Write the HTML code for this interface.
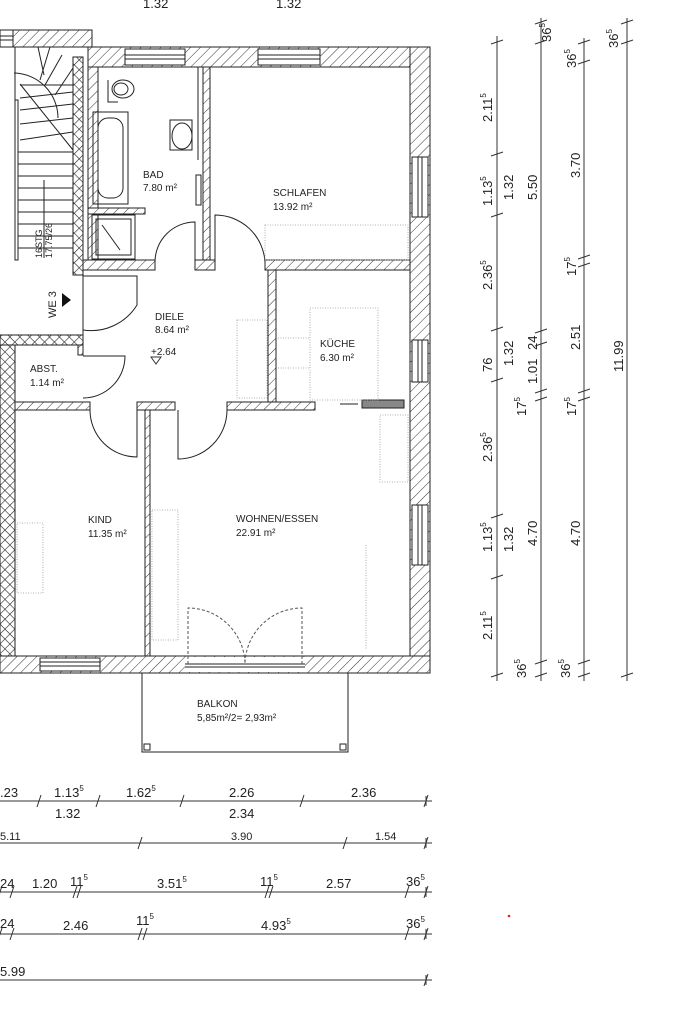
<!DOCTYPE html>
<html><head><meta charset="utf-8"><style>
html,body{margin:0;padding:0;background:#fff;}
svg{display:block;}
text{font-family:"Liberation Sans",sans-serif;fill:#222;}
</style></head><body>
<svg width="678" height="1013" viewBox="0 0 678 1013" xmlns="http://www.w3.org/2000/svg">
<defs>
<pattern id="h" width="7" height="7" patternUnits="userSpaceOnUse" patternTransform="rotate(45)">
<rect width="7" height="7" fill="#fff"/><line x1="0" y1="0" x2="0" y2="7" stroke="#333" stroke-width="1"/>
</pattern>
<pattern id="x" width="7" height="7" patternUnits="userSpaceOnUse" patternTransform="rotate(45)">
<rect width="7" height="7" fill="#fff"/><line x1="0" y1="0" x2="0" y2="7" stroke="#222" stroke-width="1.2"/><line x1="0" y1="0" x2="7" y2="0" stroke="#222" stroke-width="1.2"/>
</pattern>
</defs>
<g stroke="#222" stroke-width="1">
<!-- top walls -->
<rect x="13" y="30" width="79" height="17" fill="url(#h)"/>
<rect x="88" y="47" width="342" height="20" fill="url(#h)"/>
<rect x="125" y="49" width="60" height="16" fill="#fff"/>
<rect x="258" y="49" width="62" height="16" fill="#fff"/>
<line x1="125" y1="55" x2="185" y2="55"/><line x1="125" y1="59" x2="185" y2="59"/>
<line x1="258" y1="55" x2="320" y2="55"/><line x1="258" y1="59" x2="320" y2="59"/>
<rect x="0" y="30" width="13" height="17" fill="#fff"/>
<line x1="0" y1="36" x2="13" y2="36"/><line x1="0" y1="40" x2="13" y2="40"/>
<!-- right wall -->
<rect x="410" y="47" width="20" height="626" fill="url(#h)"/>
<rect x="412" y="157" width="16" height="60" fill="#fff"/>
<line x1="418" y1="157" x2="418" y2="217"/><line x1="422" y1="157" x2="422" y2="217"/>
<rect x="412" y="340" width="16" height="42" fill="#fff"/>
<line x1="418" y1="340" x2="418" y2="382"/><line x1="422" y1="340" x2="422" y2="382"/>
<rect x="412" y="505" width="16" height="60" fill="#fff"/>
<line x1="418" y1="505" x2="418" y2="565"/><line x1="422" y1="505" x2="422" y2="565"/>
<!-- bottom wall -->
<rect x="0" y="656" width="430" height="17" fill="url(#h)"/>
<rect x="40" y="658" width="60" height="13" fill="#fff"/>
<line x1="40" y1="662" x2="100" y2="662"/><line x1="40" y1="666" x2="100" y2="666"/>
<rect x="185" y="657" width="120" height="15" fill="#fff" stroke="none"/>
<line x1="185" y1="664" x2="305" y2="664"/><line x1="185" y1="667" x2="305" y2="667"/>
<!-- masonry -->
<rect x="73" y="57" width="10" height="218" fill="url(#x)"/>
<rect x="0" y="335" width="83" height="10" fill="url(#x)"/>
<rect x="0" y="345" width="15" height="311" fill="url(#x)"/>
<!-- internal walls -->
<rect x="83" y="260" width="72" height="10" fill="url(#h)"/>
<rect x="195" y="260" width="20" height="10" fill="url(#h)"/>
<rect x="265" y="260" width="145" height="10" fill="url(#h)"/>
<rect x="203" y="67" width="7" height="193" fill="url(#h)"/>
<line x1="198" y1="67" x2="198" y2="160"/>
<rect x="268" y="270" width="8" height="132" fill="url(#h)"/>
<rect x="15" y="402" width="75" height="8" fill="url(#h)"/>
<rect x="137" y="402" width="38" height="8" fill="url(#h)"/>
<rect x="227" y="402" width="88" height="8" fill="url(#h)"/>
<rect x="145" y="410" width="5" height="246" fill="url(#h)"/>
<rect x="362" y="400" width="42" height="8" fill="#888"/>
<line x1="340" y1="404" x2="358" y2="404"/>
<rect x="78" y="345" width="5" height="10" fill="url(#h)"/>
<line x1="83" y1="270" x2="83" y2="335" stroke-width="1"/>
</g>
<!-- doors -->
<g stroke="#222" stroke-width="1" fill="none">
<path d="M195,262 L195,222 A40,40 0 0 0 155,262"/>
<path d="M215,262 L215,215 A50,50 0 0 1 265,262"/>
<path d="M83,276 L137,276 L137,305 A54,54 0 0 1 83,330"/>
<path d="M83,356 L125,356 A42,42 0 0 1 83,398"/>
<path d="M137,410 L137,457 A47,47 0 0 1 90,410"/>
<path d="M178,410 L178,459 A49,49 0 0 0 227,410"/>
<g stroke-dasharray="3,2" stroke="#555">
<path d="M188,664 L188,608 A57,57 0 0 1 245,664"/>
<path d="M302,664 L302,608 A57,57 0 0 0 245,664"/>
</g>
<!-- balcony -->
<path d="M142,673 L142,752 L348,752 L348,673"/>
<rect x="144" y="744" width="6" height="6"/><rect x="340" y="744" width="6" height="6"/>
<!-- stairs -->
<line x1="15" y1="47" x2="15" y2="260"/>
<rect x="15" y="100" width="3" height="160"/>
<path d="M14,73 A45,45 0 0 1 58,118"/>
<line x1="38" y1="47" x2="44" y2="75"/><line x1="50" y1="47" x2="40" y2="80"/>
<line x1="62" y1="55" x2="45" y2="85"/><line x1="73" y1="68" x2="55" y2="95"/>
<line x1="20" y1="85" x2="73" y2="85"/><line x1="20" y1="98" x2="73" y2="92"/>
<line x1="20" y1="110" x2="73" y2="104"/><line x1="20" y1="124" x2="73" y2="118"/>
<line x1="20" y1="140" x2="73" y2="132"/><line x1="20" y1="84" x2="73" y2="150"/>
<line x1="18" y1="152" x2="73" y2="152"/><line x1="18" y1="164" x2="73" y2="164"/>
<line x1="18" y1="176" x2="73" y2="176"/><line x1="18" y1="188" x2="73" y2="188"/>
<line x1="18" y1="200" x2="73" y2="200"/><line x1="18" y1="212" x2="73" y2="212"/>
<line x1="18" y1="224" x2="73" y2="224"/><line x1="18" y1="236" x2="73" y2="236"/>
<line x1="18" y1="248" x2="73" y2="248"/>
<line x1="44" y1="180" x2="44" y2="258"/>
<!-- bathroom -->
<rect x="88" y="67" width="10" height="193" fill="url(#h)"/>
<path d="M108,80 L108,102 L118,102"/><ellipse cx="123" cy="89" rx="11" ry="9"/><ellipse cx="121" cy="89" rx="7" ry="6"/>
<rect x="93" y="112" width="35" height="92"/><rect x="98" y="118" width="25" height="80" rx="10"/>
<rect x="88" y="208" width="57" height="6" fill="url(#h)"/>
<rect x="92" y="215" width="43" height="44"/><rect x="96" y="219" width="35" height="36"/>
<line x1="102" y1="225" x2="120" y2="250"/>
<rect x="170" y="120" width="22" height="30"/><ellipse cx="182" cy="136" rx="10" ry="13"/>
<rect x="196" y="175" width="5" height="30"/>
</g>
<!-- furniture dotted -->
<g stroke="#999" stroke-width="0.8" fill="none" stroke-dasharray="1,1.5">
<rect x="265" y="225" width="143" height="35"/>
<rect x="237" y="320" width="30" height="78"/>
<rect x="310" y="308" width="68" height="92"/>
<line x1="278" y1="338" x2="310" y2="338"/><line x1="278" y1="368" x2="310" y2="368"/>
<rect x="380" y="415" width="28" height="67"/>
<rect x="17" y="523" width="26" height="70"/>
<rect x="152" y="510" width="26" height="130"/>
<line x1="366" y1="545" x2="366" y2="650"/>
</g>
<!-- triangles -->
<path d="M62,293 L71,300 L62,307 Z" fill="#111"/>
<path d="M151,357 L161,357 L156,364 Z" fill="none" stroke="#333"/>
<!-- labels -->
<g font-size="10">
<text x="143" y="178">BAD</text><text x="143" y="191">7.80 m²</text>
<text x="273" y="196">SCHLAFEN</text><text x="273" y="210">13.92 m²</text>
<text x="155" y="320">DIELE</text><text x="155" y="333">8.64 m²</text>
<text x="151" y="355" fill="#777">+2.64</text>
<text x="320" y="347">KÜCHE</text><text x="320" y="361">6.30 m²</text>
<text x="30" y="372">ABST.</text><text x="30" y="386">1.14 m²</text>
<text x="88" y="523">KIND</text><text x="88" y="537">11.35 m²</text>
<text x="236" y="522">WOHNEN/ESSEN</text><text x="236" y="536">22.91 m²</text>
<text x="197" y="707">BALKON</text><text x="197" y="721">5,85m²/2= 2,93m²</text>
<text transform="translate(42,258) rotate(-90)" font-size="9">16STG</text>
<text transform="translate(52,258) rotate(-90)" font-size="9">17.75/26</text>
<text transform="translate(56,318) rotate(-90)" font-size="11">WE 3</text>
</g>
<!-- top cut labels -->
<g font-size="13"><text x="143" y="8">1.32</text><text x="276" y="8">1.32</text></g>
<!-- bottom dims -->
<g stroke="#333" stroke-width="1" fill="none">
<line x1="0" y1="801" x2="432" y2="801"/>
<line x1="0" y1="843" x2="432" y2="843"/>
<line x1="0" y1="892" x2="432" y2="892"/>
<line x1="0" y1="934" x2="432" y2="934"/>
<line x1="0" y1="980" x2="432" y2="980"/>
<path d="M37,807 L41,795 M96,807 L100,795 M180,807 L184,795 M300,807 L304,795 M424,807 L428,795 M426,796 L426,806"/>
<path d="M138,849 L142,837 M343,849 L347,837 M424,849 L428,837 M426,838 L426,848"/>
<path d="M-2,898 L2,886 M10,898 L14,886 M73,898 L77,886 M77,898 L81,886 M265,898 L269,886 M269,898 L273,886 M405,898 L409,886 M424,898 L428,886 M426,887 L426,897"/>
<path d="M-2,940 L2,928 M10,940 L14,928 M138,940 L142,928 M143,940 L147,928 M405,940 L409,928 M424,940 L428,928 M426,929 L426,939"/>
<path d="M424,986 L428,974 M426,975 L426,985"/>
</g>
<g font-size="13">
<text x="0" y="797">.23</text><text x="54" y="797">1.13<tspan font-size="8" dy="-6">5</tspan></text>
<text x="55" y="818">1.32</text>
<text x="126" y="797">1.62<tspan font-size="8" dy="-6">5</tspan></text>
<text x="229" y="797">2.26</text><text x="229" y="818">2.34</text>
<text x="351" y="797">2.36</text>
<text x="0" y="840" font-size="11">5.11</text>
<text x="231" y="840" font-size="11">3.90</text>
<text x="375" y="840" font-size="11">1.54</text>
<text x="0" y="888">24</text><text x="32" y="888">1.20</text>
<text x="70" y="886">11<tspan font-size="8" dy="-6">5</tspan></text>
<text x="157" y="888">3.51<tspan font-size="8" dy="-6">5</tspan></text>
<text x="260" y="886">11<tspan font-size="8" dy="-6">5</tspan></text>
<text x="326" y="888">2.57</text>
<text x="406" y="886">36<tspan font-size="8" dy="-6">5</tspan></text>
<text x="0" y="928">24</text><text x="63" y="930">2.46</text>
<text x="136" y="925">11<tspan font-size="8" dy="-6">5</tspan></text>
<text x="261" y="930">4.93<tspan font-size="8" dy="-6">5</tspan></text>
<text x="406" y="928">36<tspan font-size="8" dy="-6">5</tspan></text>
<text x="0" y="976">5.99</text>
</g>
<!-- right dims -->
<g stroke="#333" stroke-width="1" fill="none">
<line x1="497" y1="36" x2="497" y2="680"/>
<line x1="541" y1="18" x2="541" y2="680"/>
<line x1="584" y1="38" x2="584" y2="680"/>
<line x1="627" y1="18" x2="627" y2="680"/>
<path d="M491,44 L503,40 M491,156 L503,152 M491,217 L503,213 M491,331 L503,327 M491,382 L503,378 M491,518 L503,514 M491,579 L503,575 M491,677 L503,673 M497,671 L497,681"/>
<path d="M535,24 L547,20 M535,44 L547,40 M535,333 L547,329 M535,346 L547,342 M535,393 L547,389 M535,401 L547,397 M535,664 L547,660 M535,677 L547,673 M541,671 L541,681"/>
<path d="M578,44 L590,40 M578,64 L590,60 M578,259 L590,255 M578,267 L590,263 M578,393 L590,389 M578,401 L590,397 M578,664 L590,660 M578,677 L590,673 M584,671 L584,681"/>
<path d="M621,24 L633,20 M621,44 L633,40 M621,677 L633,673 M627,671 L627,681"/>
</g>
<g font-size="13">
<text transform="translate(492,122) rotate(-90)">2.11<tspan font-size="8" dy="-6">5</tspan></text>
<text transform="translate(492,206) rotate(-90)">1.13<tspan font-size="8" dy="-6">5</tspan></text>
<text transform="translate(513,200) rotate(-90)">1.32</text>
<text transform="translate(492,290) rotate(-90)">2.36<tspan font-size="8" dy="-6">5</tspan></text>
<text transform="translate(492,372) rotate(-90)">76</text>
<text transform="translate(513,366) rotate(-90)">1.32</text>
<text transform="translate(492,462) rotate(-90)">2.36<tspan font-size="8" dy="-6">5</tspan></text>
<text transform="translate(492,552) rotate(-90)">1.13<tspan font-size="8" dy="-6">5</tspan></text>
<text transform="translate(513,552) rotate(-90)">1.32</text>
<text transform="translate(492,640) rotate(-90)">2.11<tspan font-size="8" dy="-6">5</tspan></text>
<text transform="translate(526,678) rotate(-90)">36<tspan font-size="8" dy="-6">5</tspan></text>
<text transform="translate(551,42) rotate(-90)">36<tspan font-size="8" dy="-6">5</tspan></text>
<text transform="translate(537,200) rotate(-90)">5.50</text>
<text transform="translate(537,350) rotate(-90)">24</text>
<text transform="translate(537,384) rotate(-90)">1.01</text>
<text transform="translate(526,416) rotate(-90)">17<tspan font-size="8" dy="-6">5</tspan></text>
<text transform="translate(537,546) rotate(-90)">4.70</text>
<text transform="translate(570,678) rotate(-90)">36<tspan font-size="8" dy="-6">5</tspan></text>
<text transform="translate(576,68) rotate(-90)">36<tspan font-size="8" dy="-6">5</tspan></text>
<text transform="translate(580,178) rotate(-90)">3.70</text>
<text transform="translate(576,276) rotate(-90)">17<tspan font-size="8" dy="-6">5</tspan></text>
<text transform="translate(580,350) rotate(-90)">2.51</text>
<text transform="translate(576,416) rotate(-90)">17<tspan font-size="8" dy="-6">5</tspan></text>
<text transform="translate(580,546) rotate(-90)">4.70</text>
<text transform="translate(618,48) rotate(-90)">36<tspan font-size="8" dy="-6">5</tspan></text>
<text transform="translate(623,372) rotate(-90)">11.99</text>
</g>
<circle cx="509" cy="916" r="1.3" fill="#e22"/>
</svg>
</body></html>
